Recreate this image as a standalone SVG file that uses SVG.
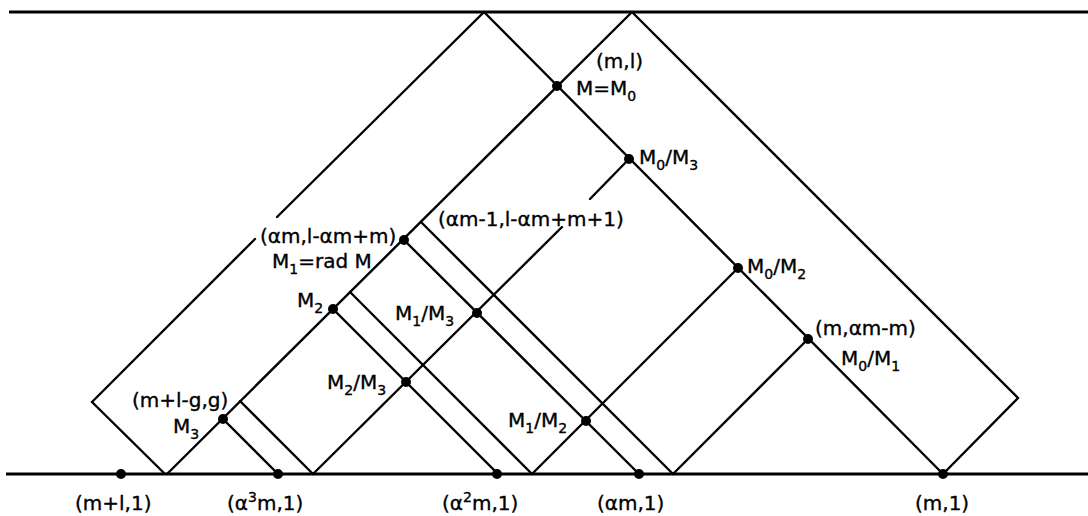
<svg xmlns="http://www.w3.org/2000/svg" width="1088" height="516" viewBox="0 0 1088 516">
<style>
.ln{stroke:#000;stroke-width:2.4;fill:none;stroke-linecap:round}
.base{stroke:#000;stroke-width:2.8;fill:none}
.dot{fill:#000}
text{font-family:"DejaVu Sans","Liberation Sans",sans-serif;font-size:20px;fill:#000;stroke:#000;stroke-width:0.35}
.sub{font-size:14px}
</style>
<rect width="1088" height="516" fill="#fff"/>
<g id="connectors">
<line class="base" x1="9" y1="12" x2="1088" y2="12"/>
<line class="base" x1="6" y1="474" x2="1088" y2="474"/>
<line class="ln" x1="92" y1="402" x2="255" y2="239"/>
<line class="ln" x1="277" y1="217" x2="484" y2="12"/>
<line class="ln" x1="92" y1="402" x2="165" y2="474"/>
<line class="ln" x1="484" y1="12" x2="943" y2="474"/>
<line class="ln" x1="167" y1="474" x2="632" y2="12"/>
<line class="ln" x1="632" y1="12" x2="1018" y2="398"/>
<line class="ln" x1="1018" y1="398" x2="943" y2="474"/>
<line class="ln" x1="313" y1="474" x2="562" y2="227"/>
<line class="ln" x1="590" y1="199" x2="629" y2="159"/>
<line class="ln" x1="404" y1="240" x2="639" y2="474"/>
<line class="ln" x1="421" y1="222" x2="673" y2="474"/>
<line class="ln" x1="333" y1="309" x2="498" y2="474"/>
<line class="ln" x1="223" y1="419" x2="278" y2="474"/>
<line class="ln" x1="240" y1="401" x2="313" y2="474"/>
<line class="ln" x1="350" y1="292" x2="532" y2="474"/>
<line class="ln" x1="532" y1="474" x2="738" y2="268"/>
<line class="ln" x1="673" y1="474" x2="808" y2="339"/>
</g>
<g id="n-ml">
<circle class="dot" cx="557" cy="86" r="5"/>
<text x="596" y="68">(m,l)</text>
<text x="576" y="95">M=M<tspan class="sub" dy="6">0</tspan></text>
</g>
<g id="n-m0m3">
<circle class="dot" cx="629" cy="159" r="5"/>
<text x="639" y="164">M<tspan class="sub" dy="6">0</tspan><tspan dy="-6">/M</tspan><tspan class="sub" dy="6">3</tspan></text>
</g>
<g id="n-m0m2">
<circle class="dot" cx="738" cy="268" r="5"/>
<text x="747" y="273">M<tspan class="sub" dy="6">0</tspan><tspan dy="-6">/M</tspan><tspan class="sub" dy="6">2</tspan></text>
</g>
<g id="n-m0m1">
<circle class="dot" cx="808" cy="339" r="5"/>
<text x="815" y="335">(m,αm-m)</text>
<text x="841" y="365">M<tspan class="sub" dy="6">0</tspan><tspan dy="-6">/M</tspan><tspan class="sub" dy="6">1</tspan></text>
</g>
<g id="n-am1">
<text x="438" y="226">(αm-1,l-αm+m+1)</text>
</g>
<g id="n-m1">
<circle class="dot" cx="404" cy="240" r="5"/>
<text x="260" y="243">(αm,l-αm+m)</text>
<text x="272" y="268">M<tspan class="sub" dy="6">1</tspan><tspan dy="-6">=rad M</tspan></text>
</g>
<g id="n-m2">
<circle class="dot" cx="333" cy="309" r="5"/>
<text x="297" y="307">M<tspan class="sub" dy="6">2</tspan></text>
</g>
<g id="n-m1m3">
<circle class="dot" cx="477" cy="313" r="5"/>
<text x="395" y="320">M<tspan class="sub" dy="6">1</tspan><tspan dy="-6">/M</tspan><tspan class="sub" dy="6">3</tspan></text>
</g>
<g id="n-m2m3">
<circle class="dot" cx="406" cy="382" r="5"/>
<text x="327" y="389">M<tspan class="sub" dy="6">2</tspan><tspan dy="-6">/M</tspan><tspan class="sub" dy="6">3</tspan></text>
</g>
<g id="n-m3">
<circle class="dot" cx="223" cy="419" r="5"/>
<text x="132" y="407">(m+l-g,g)</text>
<text x="173" y="433">M<tspan class="sub" dy="6">3</tspan></text>
</g>
<g id="n-m1m2">
<circle class="dot" cx="586" cy="421" r="5"/>
<text x="508" y="427">M<tspan class="sub" dy="6">1</tspan><tspan dy="-6">/M</tspan><tspan class="sub" dy="6">2</tspan></text>
</g>
<g id="n-b1">
<circle class="dot" cx="121" cy="474" r="5"/>
<text x="75" y="510">(m+l,1)</text>
</g>
<g id="n-b2">
<circle class="dot" cx="278" cy="474" r="5"/>
<text x="227" y="510">(α<tspan class="sub" dy="-8">3</tspan><tspan dy="8">m,1)</tspan></text>
</g>
<g id="n-b3">
<circle class="dot" cx="497" cy="474" r="5"/>
<text x="442" y="510">(α<tspan class="sub" dy="-8">2</tspan><tspan dy="8">m,1)</tspan></text>
</g>
<g id="n-b4">
<circle class="dot" cx="639" cy="474" r="5"/>
<text x="597" y="510">(αm,1)</text>
</g>
<g id="n-b5">
<circle class="dot" cx="943" cy="474" r="5"/>
<text x="915" y="510">(m,1)</text>
</g>
</svg>
